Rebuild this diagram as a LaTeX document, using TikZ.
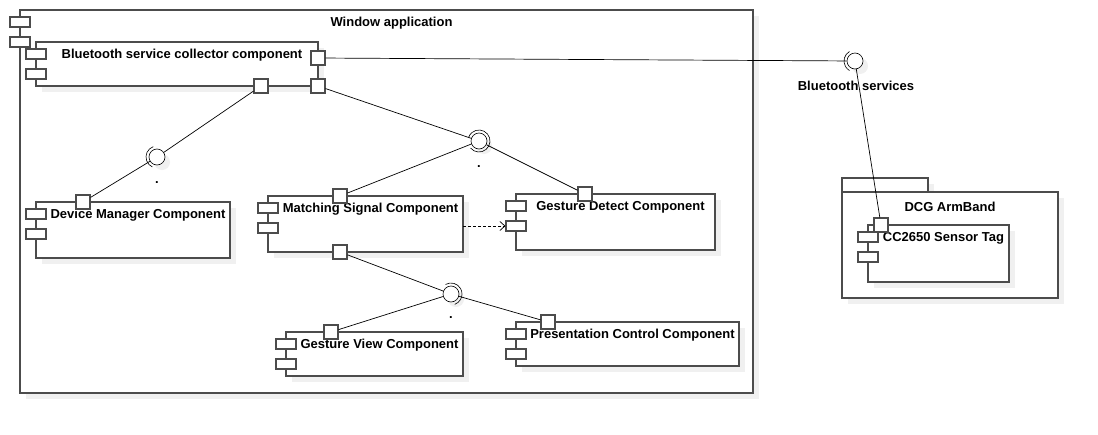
\documentclass[tikz,border=0pt]{standalone}
\usepackage{fontspec}
\setmainfont{Liberation Sans}
\usetikzlibrary{calc,shadows,arrows.meta}

\tikzset{
  compbox/.style={rectangle, draw=black!70, line width=1.1pt, fill=white,
    inner sep=0pt, outer sep=0pt, anchor=north west,
    drop shadow={shadow xshift=6pt, shadow yshift=-6pt, fill=black!6, opacity=1}},
  tab/.style={rectangle, draw=black!70, line width=1.1pt, fill=white,
    inner sep=0pt, minimum width=20pt, minimum height=10pt},
  port/.style={rectangle, draw=black!70, line width=1.1pt, fill=white,
    inner sep=0pt, minimum size=14pt},
  ball/.style={circle, draw, line width=0.6pt, fill=white, inner sep=0pt,
    minimum size=16pt,
    drop shadow={shadow xshift=5pt, shadow yshift=-5pt, fill=black!6, opacity=1}},
  socket/.style={line width=0.6pt},
  ctitle/.style={font=\bfseries\fontsize{13}{15}\selectfont, inner sep=0pt},
  wire/.style={line width=0.7pt},
}

% name, x, y, width, height, title
\newcommand{\component}[6]{%
  \node[compbox, minimum width=#4pt, minimum height=#5pt] (#1) at (#2,#3) {};
  \node[tab] (#1-t1) at ($(#1.north west)+(0,12)$) {};
  \node[tab] (#1-t2) at ($(#1.north west)+(0,32)$) {};
  \node[ctitle] (#1-name) at ($(#1.north)+(5,13.5)$) {#6};
}

\begin{document}
\begin{tikzpicture}[x=1pt, y=-1pt]
  \useasboundingbox (0,0) rectangle (1098,434);

  % the application
  \component{win}{20}{10}{733}{383}{Window application}
  \component{bt}{36}{42}{282}{44}{Bluetooth service collector component}
  \component{dm}{36}{202}{194}{56}{Device Manager Component}
  \component{ms}{268}{196}{195}{56}{Matching Signal Component}
  \component{gd}{516}{194}{199}{56}{Gesture Detect Component}
  \component{gv}{286}{332}{177}{44}{Gesture View Component}
  \component{pc}{516}{322}{223}{44}{Presentation Control Component}

  % the arm band
  \node[compbox, minimum width=86pt, minimum height=15pt] (pkgtab) at (842,178) {};
  \node[compbox, minimum width=216pt, minimum height=106pt] (pkg) at (842,192) {};
  \node[ctitle] (pkg-name) at (950,207) {DCG ArmBand};
  \component{cc}{868}{225}{141}{57}{CC2650 Sensor Tag}

  % ports
  \node[port] (bt-p1) at (318,58) {};
  \node[port] (bt-p2) at (318,86) {};
  \node[port] (bt-p3) at (261,86) {};
  \node[port] (dm-p) at (83,202) {};
  \node[port] (ms-p1) at (340,196) {};
  \node[port] (ms-p2) at (340,252) {};
  \node[port] (gd-p) at (585,194) {};
  \node[port] (gv-p) at (331,332) {};
  \node[port] (pc-p) at (548,322) {};
  \node[port] (cc-p) at (881,225) {};

  % interfaces
  \node[ball] (bts) at (855,61) {};
  \draw[socket] ($(bts)+(120:11pt)$) arc[start angle=120, end angle=240, radius=11pt];
  \node[ctitle] (bts-name) at (856,86) {Bluetooth services};

  \node[ball] (ifdev) at (157,157) {};
  \draw[socket] ($(ifdev)+(110:11pt)$) arc[start angle=110, end angle=245, radius=11pt];
  \node[ctitle] (ifdev-name) at ($(ifdev)+(0,26)$) {.};

  \node[ball] (ifsig) at (479,141) {};
  \draw[socket] ($(ifsig)+(220:11pt)$) arc[start angle=220, end angle=520, radius=11pt];
  \node[ctitle] (ifsig-name) at ($(ifsig)+(0,26)$) {.};

  \node[ball] (ifview) at (451,294) {};
  \draw[socket] ($(ifview)+(120:11pt)$) arc[start angle=120, end angle=-70, radius=11pt];
  \node[ctitle] (ifview-name) at ($(ifview)+(0,24)$) {.};

  % connectors
  \draw[wire] (bt-p1) -- (bts);
  \draw[wire] (bts) -- (cc-p);
  \draw[wire] (bt-p3) -- (ifdev);
  \draw[wire] (ifdev) -- (dm-p);
  \draw[wire] (bt-p2) -- (ifsig);
  \draw[wire] (ms-p1) -- (ifsig);
  \draw[wire] (ifsig) -- (gd-p);
  \draw[wire] (ms-p2) -- (ifview);
  \draw[wire] (ifview) -- (gv-p);
  \draw[wire] (ifview) -- (pc-p);
  \draw[wire, dash pattern=on 3pt off 2pt, -{Straight Barb[length=5pt, width=9pt]}]
    (ms.east |- gd-t2) -- (gd-t2);
\end{tikzpicture}
\end{document}
